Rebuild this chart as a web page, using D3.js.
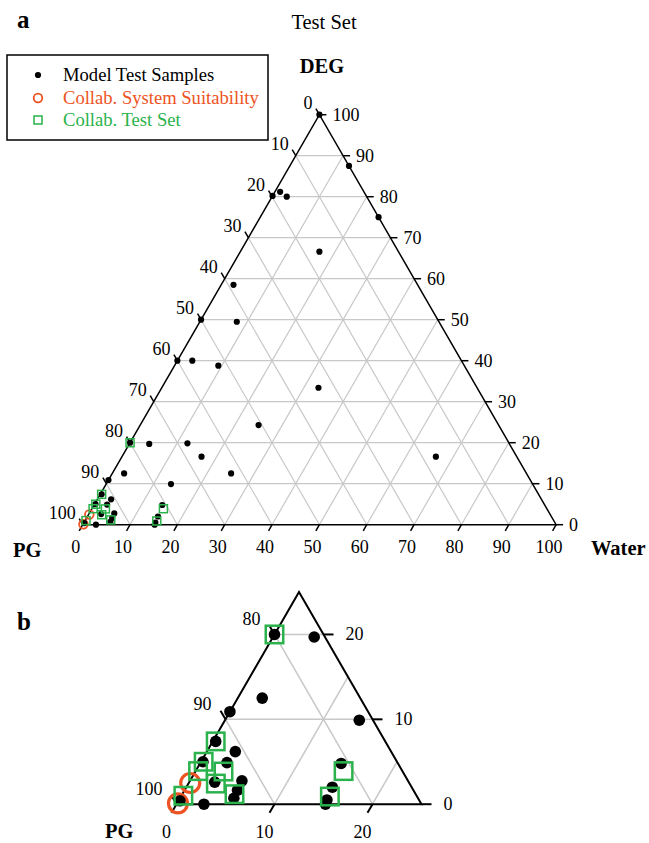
<!DOCTYPE html>
<html>
<head>
<meta charset="utf-8">
<script src="https://cdn.jsdelivr.net/npm/d3@7"></script>
<style>
  body { margin: 0; background: #fff; }
  svg text { font-family: "Liberation Serif", "Times New Roman", serif; }
</style>
</head>
<body>
<div id="chart"></div>
<script>
// compositions as [Water, DEG] in %, PG = 100 - Water - DEG
var modelSamples = [
  [0, 100], [12.5, 87.5], [25, 75], [0, 80.2], [1.1, 81.2], [3.1, 80.0],
  [16.7, 66.6], [2.6, 58.5], [0, 50], [7.8, 49.5], [0, 40], [3.15, 40],
  [9.25, 38.8], [33.1, 33.4], [25.0, 24.3], [66.3, 16.6], [0, 20],
  [4.2, 19.7], [12.2, 19.85], [16.8, 16.6], [25.1, 12.5], [2.5, 12.5],
  [0, 10.9], [13.7, 9.9], [0.3, 7.4], [2.9, 6.2], [0.2, 5.0], [2.7, 4.9],
  [2.6, 2.6], [5.3, 2.75], [5.5, 0.7], [5.4, 1.65], [2.8, 0], [0.15, 0.4],
  [14.4, 4.8], [14.9, 2.0], [15.1, 0.5], [15.2, 0]
];
var systemSuitability = [[0.15, 2.5], [0.1, 0.1]];
var collabTestSet = [
  [0, 20], [0.3, 7.4], [0.27, 5.0], [0.25, 3.9], [2.87, 3.85], [2.8, 2.43],
  [5.33, 1.18], [0.2, 1.0], [15.1, 3.9], [15.2, 0.9]
];
var ticksA = [0, 10, 20, 30, 40, 50, 60, 70, 80, 90, 100];
var ticksB = [0, 10, 20];
var legendLabels = ["Model Test Samples", "Collab. System Suitability", "Collab. Test Set"];

var orange = "#ee5323", green = "#2bb24c";
var s3 = Math.sqrt(3) / 2;

var svg = d3.select("#chart").append("svg")
    .attr("width", 649)
    .attr("height", 843);

function ternary(opt) {
  var max = opt.max;
  var x = d3.scaleLinear().domain([0, max]).range([opt.x0, opt.x0 + opt.side]);
  var y = d3.scaleLinear().domain([0, max]).range([opt.y0, opt.y0 - opt.side * s3]);
  var px = function (w, d) { return x(w + d / 2); };
  var py = function (w, d) { return y(d); };
  var g = svg.append("g");

  // grid
  var segs = [];
  opt.grid.forEach(function (t) {
    segs.push([[0, t], [max - t, t]]);   // constant DEG
    segs.push([[t, 0], [t, max - t]]);   // constant Water
    segs.push([[t, 0], [0, t]]);         // constant PG
  });
  g.selectAll(".grid").data(segs).enter().append("line")
      .attr("x1", function (s) { return px(s[0][0], s[0][1]); })
      .attr("y1", function (s) { return py(s[0][0], s[0][1]); })
      .attr("x2", function (s) { return px(s[1][0], s[1][1]); })
      .attr("y2", function (s) { return py(s[1][0], s[1][1]); })
      .style("stroke", "#c8c8c8")
      .style("stroke-width", opt.gridW);

  // frame
  g.append("path")
      .attr("d", "M" + px(0, 0) + "," + py(0, 0) + "L" + px(max, 0) + "," + py(max, 0) +
                 "L" + px(0, max) + "," + py(0, max) + "Z")
      .style("fill", "none")
      .style("stroke", "black")
      .style("stroke-width", opt.axisW);

  var L = opt.tickLen;
  var ticks = opt.ticks;
  // bottom (Water)
  g.selectAll(".tb").data(ticks).enter().append("line")
      .attr("x1", function (t) { return px(t, 0); })
      .attr("y1", function (t) { return py(t, 0); })
      .attr("x2", function (t) { return px(t, 0) - L / 2; })
      .attr("y2", function (t) { return py(t, 0) + L * s3; })
      .style("stroke", "black").style("stroke-width", opt.axisW);
  // right (DEG)
  g.selectAll(".tr").data(ticks).enter().append("line")
      .attr("x1", function (t) { return px(max - t, t); })
      .attr("y1", function (t) { return py(max - t, t); })
      .attr("x2", function (t) { return px(max - t, t) + L; })
      .attr("y2", function (t) { return py(max - t, t); })
      .style("stroke", "black").style("stroke-width", opt.axisW);
  // left (PG)
  g.selectAll(".tl").data(ticks).enter().append("line")
      .attr("x1", function (t) { return px(0, t); })
      .attr("y1", function (t) { return py(0, t); })
      .attr("x2", function (t) { return px(0, t) - L / 2; })
      .attr("y2", function (t) { return py(0, t) - L * s3; })
      .style("stroke", "black").style("stroke-width", opt.axisW);

  // tick labels
  g.selectAll(".lb").data(ticks).enter().append("text")
      .attr("x", function (t) { return px(t, 0) + opt.bottomDx; })
      .attr("y", function (t) { return py(t, 0) + opt.bottomDy; })
      .attr("text-anchor", "middle")
      .style("font-size", "18px")
      .text(function (t) { return t; });
  g.selectAll(".lr").data(ticks).enter().append("text")
      .attr("x", function (t) { return px(max - t, t) + opt.rightDx; })
      .attr("y", function (t) { return py(max - t, t) + 6; })
      .attr("text-anchor", "start")
      .style("font-size", "18px")
      .text(function (t) { return t; });
  g.selectAll(".ll").data(ticks).enter().append("text")
      .attr("x", function (t) { return px(0, t) + opt.leftDx; })
      .attr("y", function (t) { return py(0, t) + opt.leftDy; })
      .attr("text-anchor", "end")
      .style("font-size", "18px")
      .text(function (t) { return 100 - t; });

  var inside = function (p) { return p[0] + p[1] <= max + 0.5; };

  // markers
  g.selectAll(".ss").data(systemSuitability.filter(inside)).enter().append("circle")
      .attr("cx", function (p) { return px(p[0], p[1]); })
      .attr("cy", function (p) { return py(p[0], p[1]); })
      .attr("r", opt.ringR)
      .style("fill", "none")
      .style("stroke", orange)
      .style("stroke-width", opt.ringW);
  g.selectAll(".ms").data(modelSamples.filter(inside)).enter().append("circle")
      .attr("cx", function (p) { return px(p[0], p[1]); })
      .attr("cy", function (p) { return py(p[0], p[1]); })
      .attr("r", opt.dotR)
      .style("fill", "black");
  var q = opt.sq;
  g.selectAll(".ct").data(collabTestSet.filter(inside)).enter().append("rect")
      .attr("x", function (p) { return px(p[0], p[1]) - q / 2; })
      .attr("y", function (p) { return py(p[0], p[1]) - q / 2; })
      .attr("width", q)
      .attr("height", q)
      .style("fill", "none")
      .style("stroke", green)
      .style("stroke-width", opt.sqW);
}

// panel a
ternary({ max: 100, x0: 82.7, y0: 524.7, side: 473.4, grid: d3.range(10, 100, 10),
  gridW: 1.2, axisW: 1.5, tickLen: 7, ticks: ticksA,
  bottomDx: -7, bottomDy: 28, rightDx: 13, leftDx: -7, leftDy: -6,
  dotR: 3.1, ringR: 4.3, ringW: 1.8, sq: 8, sqW: 1.5 });

// panel b (zoom on the PG corner)
ternary({ max: 25, x0: 176.5, y0: 804.2, side: 245, grid: [10, 20],
  gridW: 1.5, axisW: 2, tickLen: 10, ticks: ticksB,
  bottomDx: -10, bottomDy: 34, rightDx: 22, leftDx: -14, leftDy: -9,
  dotR: 5.8, ringR: 9.5, ringW: 3.2, sq: 17.5, sqW: 2.5 });

// labels
svg.append("text").attr("x", 17).attr("y", 28).style("font-size", "25px")
    .style("font-weight", "bold").text("a");
svg.append("text").attr("x", 17).attr("y", 630).style("font-size", "25px")
    .style("font-weight", "bold").text("b");
svg.append("text").attr("x", 324).attr("y", 29).attr("text-anchor", "middle")
    .style("font-size", "20.5px").text("Test Set");
svg.append("text").attr("x", 322).attr("y", 73).attr("text-anchor", "middle")
    .style("font-size", "20.5px").style("font-weight", "bold").text("DEG");
svg.append("text").attr("x", 13).attr("y", 557)
    .style("font-size", "20.5px").style("font-weight", "bold").text("PG");
svg.append("text").attr("x", 591).attr("y", 555)
    .style("font-size", "20.5px").style("font-weight", "bold").text("Water");
svg.append("text").attr("x", 105).attr("y", 838)
    .style("font-size", "20.5px").style("font-weight", "bold").text("PG");

// legend
var lg = svg.append("g");
lg.append("rect").attr("x", 7).attr("y", 55).attr("width", 261).attr("height", 85)
    .style("fill", "white").style("stroke", "black").style("stroke-width", 1.5);
var ly = [75, 98, 120];
var lcol = ["black", orange, green];
lg.append("circle").attr("cx", 38).attr("cy", ly[0]).attr("r", 3.1).style("fill", "black");
lg.append("circle").attr("cx", 38).attr("cy", ly[1]).attr("r", 4.3)
    .style("fill", "none").style("stroke", orange).style("stroke-width", 1.8);
lg.append("rect").attr("x", 34).attr("y", ly[2] - 4).attr("width", 8).attr("height", 8)
    .style("fill", "none").style("stroke", green).style("stroke-width", 1.5);
lg.selectAll(".lt").data(legendLabels).enter().append("text")
    .attr("x", 63)
    .attr("y", function (d, i) { return ly[i] + 6; })
    .style("font-size", "18.6px")
    .style("fill", function (d, i) { return lcol[i]; })
    .text(function (d) { return d; });
</script>
</body>
</html>
